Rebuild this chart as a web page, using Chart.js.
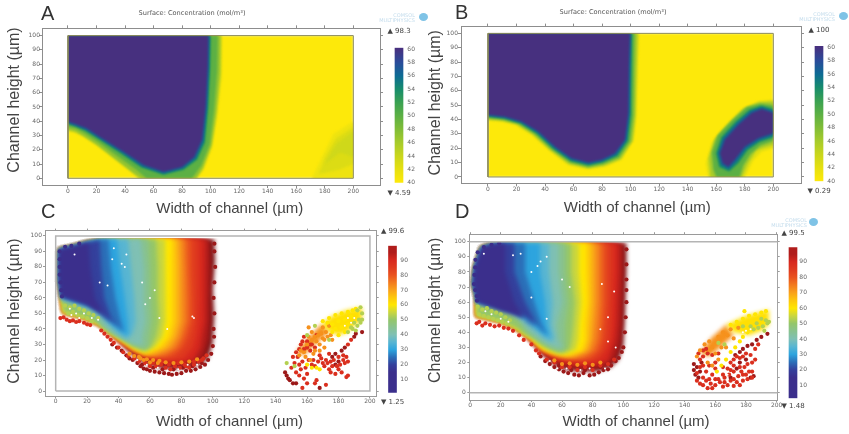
<!DOCTYPE html>
<html>
<head>
<meta charset="utf-8">
<title>Channel concentration</title>
<script src="https://cdn.jsdelivr.net/npm/chart.js@4"></script>
<style>
  html, body { margin: 0; background: #fff; overflow: hidden; }
  #stage { position: relative; width: 849px; height: 434px; }
  #stage canvas { position: absolute; filter: blur(0.45px); }
  .letter { position: absolute; font: 20px "Liberation Sans", sans-serif; color: #333; line-height: 20px; }
  .mark { position: absolute; font: 5px/5px "DejaVu Sans", sans-serif; color: #c3dcec; text-align: right; filter: blur(0.3px); }
  .logo { position: absolute; width: 9px; height: 8px; border-radius: 50%; background: #7fc3e6; }
</style>
</head>
<body>
<div id="stage">
  <canvas id="plotA" width="384" height="220" style="left:0;top:0"></canvas>
  <canvas id="plotB" width="384" height="219" style="left:421px;top:0"></canvas>
  <canvas id="plotC" width="381" height="208" style="left:0;top:226px"></canvas>
  <canvas id="plotD" width="361" height="205" style="left:421px;top:229px"></canvas>
  <canvas id="barA" width="33" height="174" style="left:383px;top:24px"></canvas>
  <canvas id="barB" width="33" height="173" style="left:803px;top:23px"></canvas>
  <canvas id="barC" width="32" height="183" style="left:377px;top:224px"></canvas>
  <canvas id="barD" width="29" height="185" style="left:779px;top:226px"></canvas>
  <div class="letter" style="left:41px;top:3px">A</div>
  <div class="letter" style="left:455px;top:2px">B</div>
  <div class="letter" style="left:41px;top:201px">C</div>
  <div class="letter" style="left:455px;top:201px">D</div>
  <div class="mark" style="left:365px;top:13px;width:50px">COMSOL<br>MULTIPHYSICS</div>
  <div class="logo" style="left:419px;top:13px"></div>
  <div class="mark" style="left:785px;top:12px;width:50px">COMSOL<br>MULTIPHYSICS</div>
  <div class="logo" style="left:839px;top:12px"></div>
  <div class="mark" style="left:757px;top:218px;width:50px">COMSOL<br>MULTIPHYSICS</div>
  <div class="logo" style="left:809px;top:218px"></div>
</div>
<script>
// colour scales of the two colour bars
const surfaceValues = [40, 42, 44, 46, 48, 50, 52, 54, 56, 58, 60];
const surfaceColors = ["#fde90a", "#e6e010", "#c9d61c", "#a6cb2b", "#80bd37", "#5cb044", "#3aa152", "#178c6c", "#0d6b94", "#2a4b9a", "#47307f"];
const rainbowValues = [0, 15, 20, 25, 30, 35, 40, 45, 50, 55, 60, 65, 70, 75, 80, 85, 90, 95, 100];
const rainbowColors = ["#3a2a84", "#3b2f8c", "#34409c", "#2b6fb8", "#2da4de", "#58b5d2", "#7fc0b4", "#88c290", "#94c66a", "#c9d63f", "#ffe600", "#fdc70c", "#f9a11b", "#f27a1e", "#e9521f", "#df3a1f", "#d7281e", "#b01c1b", "#7d1416"];

// panel A, concentration contours (x um, y um)
const a42 = [[0,100],[108,100],[107.7,71],[104.5,43],[101,22],[95,6],[90,0],[49,0],[41,9],[22,22],[10.7,29.5],[5,32],[0,33]];
const a46 = [[0,100],[107,100],[106.7,74],[104,46],[100.6,23],[94.5,7],[90,0],[51,0],[45,4],[34,12.5],[20,23.5],[10,30],[5,32.8],[0,34]];
const a50 = [[0,100],[105,100],[104.6,76],[102.4,48],[99.4,24],[93.5,9],[87,0],[55,0],[48,6],[36,14.5],[21,25.5],[11,32],[5,35],[0,36]];
const a54 = [[0,100],[100,100],[99.7,78],[98.4,50],[96,25],[90.5,13],[81,6],[67,2.5],[51.5,7.5],[37.5,17],[21.5,27.5],[12,33.5],[5,36.5],[0,38]];
const a56 = [[0,100],[99.2,100],[98.8,78],[97.4,50],[95,26],[89.5,14],[80.5,7],[67,3.5],[52,8.5],[38,18],[22,28],[12.5,34],[5,37],[0,38.6]];
const a58 = [[0,100],[98.4,100],[98,78],[96.5,50],[94,27],[88.5,15],[80,8],[67,4.5],[53,9.3],[39,18.6],[22.4,29],[13,35],[5,38],[0,39.6]];
const aFaint1 = [[171,0],[178,15],[186,31],[200,40],[200,0]];
const aFaint2 = [[176,3],[180,14],[188,28],[200,36],[200,10],[190,6]];
const aFaint3 = [[180,10],[188,24],[200,33],[200,15],[190.7,18]];

// panel B, left blob
const b42 = [[0,100],[105.8,100],[105,77],[104,42],[102,26],[93.7,12],[82,7.2],[70.3,5.4],[56.3,8.4],[42.3,19],[30.6,29.4],[19,36.4],[9.6,38.7],[0,39.4]];
const b46 = [[0,100],[105,100],[104.3,77],[103.4,42.5],[101.4,25],[93,12.5],[81.6,8],[70.3,6],[56.8,9],[43.3,19],[31.5,29.5],[20,36.7],[10,39.2],[0,40]];
const b50 = [[0,100],[103,100],[102.5,77],[102,43],[99.8,25],[92,13.5],[81,9],[70.3,7],[57.4,10],[44.5,19.3],[32.8,30],[21.3,37],[10.8,39.9],[0,41]];
const b54 = [[0,100],[101,100],[100.6,77],[100.2,43.5],[98,25],[90.8,14.7],[80.4,10.2],[70.3,8.2],[58,11.2],[45.8,19.6],[34.2,30.3],[22.8,37.4],[11.5,40.7],[0,42]];
const b56 = [[0,100],[100.3,100],[99.8,77],[99.3,44],[97,25.5],[90,15.5],[80,11],[70.3,9],[58.3,12],[46.3,20.3],[34.8,31],[23.2,38],[11.8,41.3],[0,42.7]];
const b58 = [[0,100],[99.5,100],[98.8,77],[98.4,44.5],[96,26],[89,16.5],[79.7,12],[70.3,10],[58.6,13],[47,21],[35.3,31.7],[23.6,38.7],[12,42],[0,43.4]];
// panel B, crescent
const bc42 = [[200,53.8],[189.5,52.7],[177.8,46.9],[166,35.2],[156.8,23.5],[152.8,9.6],[154.4,0],[180,0],[186,11.9],[191.8,17.7],[200,20]];
const bc46 = [[200,52.5],[190.3,52],[179.5,48],[169,37.7],[158.8,26.5],[154.6,13],[156,0],[178,0],[182,9],[188,18.5],[192,20],[200,22.5]];
const bc50 = [[200,50],[191,51],[181.5,48.8],[171.5,39.8],[161,29],[156.8,17],[158,5],[160,0],[176.5,0],[179,8],[184,16],[191,22],[200,25]];
const bc54 = [[200,47.5],[191.6,49.6],[183.4,47],[173.6,38.7],[163.6,27.8],[159.8,16.5],[162,7],[169,3.8],[175.6,9.8],[182,18.6],[190.4,24.4],[200,27.5]];
const bc56 = [[200,46],[191.8,48.6],[184.2,46],[174.6,37.6],[164.8,27],[161.2,16.5],[163.4,8.3],[168.8,5.6],[174.4,11],[181,19.8],[190,25.6],[200,29]];
const bc58 = [[200,44.5],[191.8,47.3],[184.8,44.5],[175.5,36.4],[166,26],[162.6,16.5],[164.5,9.6],[168.5,7.2],[173,12],[180,21],[189.5,27],[200,30.5]];

// panel C, body contours, open on the lower left
const rimC = [[34,38],[28,43],[18,47.5],[5,51]];
const leftC = [[3.8,60],[2.5,70],[2.3,80],[2.3,91],[11,93],[20,95.5],[28,97.4]];
const c100 = [[101,98],[101.5,84],[100,65],[101,48],[100,31],[97,21],[92,17],[83,15],[75,14],[66,15],[58,17],[50,22],[42,30.5]];
const c95 = [[98,98],[98.5,80],[98,60],[98,45],[97,33],[94,22],[86,17],[75,16],[66,17],[58,19],[50,24],[42,31]];
const c90 = [[95,98],[95,80],[95,60],[94.4,45],[93,35],[92,28],[87.6,20],[80,18],[70,18],[62,19.5],[56,21],[50,25],[42,31]];
const c85 = [[91,98],[91,80],[91,60],[90.5,45],[89,35],[87,28],[81,21],[72,19.5],[62,21],[56,22.5],[50,26],[42,31.5]];
const c80 = [[86.5,98],[86.5,80],[87,60],[87,45],[84.4,35],[81,28],[75,22.5],[68,21.5],[60,22.5],[56,23.2],[50,26],[42,31.5]];
const c75 = [[83,98],[83.5,80],[84,60],[84,45],[81,35],[77.5,28],[70,23],[62,22.5],[56,23.5],[50,26.5],[42,32]];
const c70 = [[80,98],[80.5,80],[81,60],[80.6,45],[78,35],[74,28],[64,23],[58,23.2],[50,26.5],[42,32]];
const c65 = [[77,98],[77.5,80],[77.5,60],[77.5,45],[75,35],[70,28],[60,23.8],[56,24],[50,27],[42,32.5]];
const c60 = [[74,98],[74,80],[74,60],[74,45],[71.7,35],[66,28],[57,24.5],[50,27.5],[42,33]];
const c55 = [[69.6,98],[70,80],[70,60],[70,45],[68,35],[63.5,28.5],[57,25.5],[50,28],[42,33.5]];
const c50 = [[64,98],[65,80],[65,60],[66,45],[64,35],[61,29],[57,26],[50,29],[42,34],[36,37]];
// these stop at the lower edge of the purple body
const c45 = [[59,98],[60,80],[60.5,60],[61,45],[59.5,35],[59,28.5],[56,27],[49,29.5],[42,33.5],[36,37],[29,42],[26,46],[22,50],[14,54],[4,58]];
const c40 = [[54,98],[56,80],[56,60],[57,45],[55,35],[55,29.5],[48,31],[42,34.5],[37,37.5],[31,42],[27,47.5],[22,52],[14,55.5],[4,59]];
const c35 = [[46,98],[48,80],[50,60],[51,45],[49,37],[45,33.5],[40,37],[34,42.5],[29,49],[23,53.5],[14,56.5],[4,60]];
const c30 = [[39,98],[41,80],[44,60],[46,45],[46,35.5],[42,38],[37,42],[32,47],[27,52],[14,57.5],[4,60.5]];
const c25 = [[33.5,98],[35,80],[38,60],[41,47],[43.5,37.5],[41,40],[36.5,44],[31,49],[27,53],[14,58],[4,61]];
const c20 = [[28,97.4],[29,80],[31,60],[35,48],[40,41],[36,44.5],[29,50.5],[20,56],[4,61]];
const c15 = [[21,96],[22,80],[25,60],[30,51],[36,43.5],[29,49.5],[20,55.5],[4,61]];

// panel C, crescent bands and separate particles by colour group
const cBandOrange = [[169,43],[160,33.6],[153,25],[158,23],[165,30],[174,38]];
const cBandYellow = [[195,54],[185,52],[176,48.5],[169,43],[174,38],[180,36],[186,38],[190,42],[195,46]];
const cPurple = [[2.5,90],[2.5,85],[2.5,80],[2.5,75],[3,70],[3.5,65],[4,61],[6,93],[10,93.5],[15,95]];
const cDark = [[49,20],[52,18],[54,16],[56,14.5],[58,14],[60,13],[63,12.5],[66,12],[69,11.5],[72,11],[74,10.5],[77,11],[80,11.5],[83,13],[86,13],[89,14],[92,15.5],[95,17],[97,20],[99,24],[100,29],[55,17],[62,15],[68,14],[75,14],[81,15],[87,16],[93,18],[36,30],[39,28],[42,26],[45,23],[47,21],[101,95],[101,90],[101.5,80],[101,70],[100.5,60],[101,50],[100.5,40],[100.8,35],[146,12],[147,10],[148,8],[149,7],[151,5],[153,5],[176,22],[178,24],[180,19],[182,26],[184,28],[178,17],[190,35],[191,37],[195,38],[168,2]];
const cRed = [[3,47],[5,47.5],[7,46],[9,45],[11,45.5],[13,44.5],[15,45],[18,44],[20,43],[22,42.5],[29,39],[31,37],[33,35],[35,33],[37,31],[40,28],[43,25],[46,22.5],[50,21],[53,19],[57,18],[60,16],[64,16],[67,17],[70,15],[73,14],[76,16],[79,15],[82,17],[85,15],[88,17],[91,19],[94,21],[96,23],[62,18],[68,19],[72,17],[78,18],[83,16],[88,19],[93,20],[150,15],[152,18],[153,12],[155,10],[156,14],[158,8],[160,11],[157,2],[160,5],[165,5],[166,7],[172,4],[175,12],[178,11],[180,14],[182,12],[185,9],[186,10],[184,18],[186,19],[174,14],[176,16],[170,18],[172,20],[168,23],[164,20],[162,26],[158,27],[156,30],[160,32],[163,30],[166,36],[154,22],[151,22],[180,22],[183,23],[174,24],[186,30],[188,33],[155,17],[157,19],[159,15],[161,20],[163,17],[165,16],[167,19],[169,21],[171,16],[173,18],[175,19],[177,20],[179,16],[181,17],[183,20],[185,22],[158,35],[155,27],[153,25],[157,32],[160,28],[162,30],[165,28]];
const cOrange = [[47,24],[50,22.5],[54,21],[58,20.5],[62,20],[66,19.5],[56,20],[60,18.5],[65,18],[70,18.5],[75,18],[80,18.5],[85,19],[90,20.5],[53,22],[156,26],[159,22],[162,20],[164,24],[161,35],[163,38],[166,32],[168,30],[170,34],[172,38],[170,41],[174,42],[175,36],[168,26],[171,28],[161,41],[176,33],[163,33],[165,35],[167,36],[169,37],[171,33],[173,35],[160,30],[158,25],[155,23],[165,26]];
const cYellow = [[170,45],[174,47],[178,49],[182,50],[186,51],[189,52],[176,43],[180,45],[184,46],[188,48],[178,40],[182,41],[186,43],[176,38],[180,36],[184,38],[173,44],[191,53],[166,15],[168,14],[163,15],[160,17]];
const cGreen = [[147,18],[152,16],[192,52],[194,54],[195,50],[193,46],[190,44],[188,41],[192,42],[194,44],[186,38],[189,40],[191,39],[195,46],[174,33],[160,36],[165,42],[6,55],[9,54],[12,55],[15,53],[18,52],[21,50],[24,49],[27,47],[8,50],[11,51],[14,49],[17,48],[20,47],[23,45]];
const cWhite = [[12,88],[36,85],[42,82],[44,80],[33,68],[55,70],[63,65],[28,70],[87,48],[88,47],[66,47],[57,56],[71,40],[45,88],[60,60],[37,92],[9,53],[13,50],[18,50],[23,47],[27,46],[10,49],[15,47],[186,47],[188,44],[190,47],[184,42],[58,17],[65,15],[71,13],[78,14],[84,17],[90,17],[52,20]];

// panel D, body contours, open on the lower left
const rimD = [[36,38.5],[30,43],[20,47.5],[10,50],[4.3,51]];
const leftD = [[4.3,60.4],[4.3,63.7],[2.2,72.4],[3.3,83],[7.6,96],[14,98],[20.6,99]];
const d100 = [[102,99],[102,83],[101.5,65],[101,50],[100,31],[97,22],[92,17],[83,14],[72,14],[62,15],[54,19],[47,25.5],[41,33]];
const d95 = [[100,99],[100,80],[99.5,60],[99,45],[98,33],[95,23],[88,17],[78,16],[68,16.5],[60,18],[54,21],[47,26.5],[41,33.5]];
const d90 = [[96.7,99],[96.7,80],[96,60],[95.6,45],[94.6,35],[92.4,28],[90,21],[80,18],[70,18],[60,20],[54,22.5],[47,27.5],[41,33.5]];
const d85 = [[93,99],[93,80],[92.5,60],[92,45],[91,35],[88.5,28],[84,22],[74,20],[64,21],[56,23],[47,28],[41,34]];
const d80 = [[89,99],[89,80],[89,60],[88,45],[87,35],[84.8,28],[79,22.5],[70,22],[60,23],[54,24.5],[47,28],[41,34]];
const d75 = [[85.8,99],[85.8,80],[85.8,60],[85,45],[84,35],[81.5,28],[74,23],[66,22.8],[58,24],[47,28.5],[41,34.5]];
const d70 = [[82.6,99],[82.6,80],[82.6,60],[81.5,45],[80.4,35],[78,28],[68.5,23.5],[62,23.5],[54,25.5],[47,29],[41,35]];
const d65 = [[79.3,99],[79.5,80],[79.5,60],[78.3,45],[77.7,35],[75.5,28],[66,24.5],[59,25],[52,27],[47,29.5],[41,35]];
const d60 = [[76,99],[76,80],[76.5,60],[75,45],[75,35],[72.8,28],[63,25],[57,26],[50,28],[45,31],[41,35.5]];
const d55 = [[71,99],[71,80],[72.5,60],[71.2,45],[70.6,35],[69,28.5],[62,26],[56.5,26.5],[50,29],[45,32],[41,36]];
const d50 = [[66,99],[66,80],[68.5,60],[67.4,45],[66.3,35],[65,29],[60,26.5],[56,27.5],[50,30],[45,33],[41,36.5]];
const d45 = [[62,99],[62,80],[64,60],[62,45],[62,35],[62,29],[58,27.5],[52,30],[47,33],[41,37],[36,41],[32,47],[27,51.5],[18,55],[4.3,59.5]];
const d40 = [[57.6,99],[57.6,80],[60,60],[56.5,45],[57.6,35],[60,30],[54,31],[49,33.5],[44,37],[38,41.5],[33,48],[27,52.5],[18,56],[4.3,60]];
const d35 = [[51.5,99],[51.5,80],[54,60],[53,45],[55,36],[53,33.5],[48,36.5],[42,41.5],[36,47],[29,53],[18,57],[4.3,60.2]];
const d30 = [[45.6,99],[45.6,80],[49,60],[50,45],[52,37],[49,38],[45,41.5],[38,47.5],[31,53],[18,57.5],[4.3,60.4]];
const d25 = [[36,99],[36,80],[42,60],[46.5,46],[50.5,38],[47,41],[43,45],[36,50],[29,54],[18,58],[4.3,60.4]];
const d20 = [[29,99],[29,80],[36,60],[43.5,45],[49,39.5],[44.6,44],[36,50.6],[27,54],[20.6,55],[4.3,60.4]];
const d15 = [[23,98.7],[23,80],[29,60],[37,47],[43,43],[36,49],[20,54.5],[4.3,60.4]];

// panel D, crescent bands and separate particles
const dBandOrange = [[167,45],[157,36],[150,26],[156,24],[163,30],[172,38]];
const dBandYellow = [[195,55],[180,51],[167,45],[172,40],[182,38],[190,41],[195,45]];
const dPurple = [[5,93],[3.5,88],[3.3,83],[2.8,78],[2.5,72],[3.3,68],[4.3,64],[4.5,61],[9,96.5],[14,98],[19,99]];
const dDark = [[46,24],[49,21],[52,19],[55,17],[58,15.5],[61,14],[64,13],[68,12],[71,11.5],[74,13],[78,11.5],[81,12],[84,13.5],[87,15],[90,15.5],[92,18],[95,21],[97,23],[99,27],[100,30],[58,18],[66,15],[75,15],[85,17],[102,95],[102,85],[102,75],[102,68],[102,60],[101.5,50],[101,40],[146,19],[146,15],[147,12],[148,17],[149,10],[150,14],[151,20],[173,25],[176,27],[178,29],[181,31],[184,32],[187,35],[190,37],[194,39],[180,22],[176,20],[174,16],[170,10],[183,10],[185,11]];
const dRed = [[4.3,46],[6,47],[8,44.5],[10,46],[13,45],[16,44],[19,44.5],[22,43],[25,42.5],[28,41],[32,38],[35,35],[40,32],[43,28],[45,26],[50,22],[55,20],[60,17],[65,17],[70,15],[75,17],[80,15],[85,18],[90,19],[94,22],[148,8],[150,6],[152,5],[155,3],[158,3],[160,5],[165,4],[168,5],[172,4.5],[176,5],[178,8],[181,9],[184,10],[150,22],[152,18],[154,14],[156,9],[158,12],[160,16],[162,9],[165,12],[168,16],[170,20],[172,22],[175,11],[177,14],[179,17],[181,19],[183,25],[186,29],[188,32],[174,24],[178,24],[166,7],[172,14],[176,17],[170,8],[182,14],[149,26],[152,28],[155,26],[152,10],[154,8],[157,6],[160,9],[163,7],[166,10],[169,12],[172,9],[174,7],[178,12],[180,12],[184,14],[186,22],[184,20],[170,15],[165,17],[160,20],[156,18],[150,17],[148,13],[152,24],[154,29],[158,25],[162,26],[176,23],[180,26],[172,18]];
const dOrange = [[148,24],[150,28],[153,32],[156,34],[158,30],[160,26],[162,22],[155,20],[158,18],[162,37],[165,40],[168,38],[170,42],[164,30],[167,30],[172,36],[175,43],[60,19],[65,19.5],[70,18.5],[75,19.5],[80,18.5],[85,20],[55,21.5]];
const dYellow = [[161,14],[164,18],[167,22],[170,27],[173,30],[176,34],[178,37],[181,40],[170,45],[174,47],[178,49],[182,51],[186,52],[190,53],[193,54],[179,54]];
const dGreen = [[190,49],[193,48],[194,46],[195,47],[191,44],[188,43],[185,42],[192,41],[187,46],[183,44],[166,32],[162,33],[178,44],[5,57],[8,55],[11,56],[14,54],[17,53],[20,52],[23,50],[26,48],[6,52],[9,51],[12,50],[15,49],[18,48],[21,47],[24,46]];
const dWhite = [[9,92],[28,91],[33,92],[40,80],[44,84],[46,87],[40,63],[50,90],[60,75],[65,70],[94,67],[86,72],[90,50],[90,34],[95,30],[85,42],[50,49],[160,12],[168,12],[164,22],[172,20],[180,41],[176,30],[158,22],[168,28],[14,52],[20,49],[25,47],[10,54],[178,40],[174,36],[183,42],[57,16],[63,16],[72,15],[78,16],[88,16],[52,21]];

// channel outline and the ranges printed on the colour bars
const channelBox = [[0,0],[200,0],[200,100],[0,100],[0,0]];
const channelBoxD = [[-1,0],[201,0],[201,100],[-1,100],[-1,0]];
const rangeA = [4.59, 98.3];
const rangeB = [0.29, 100];
const rangeC = [1.25, 99.6];
const rangeD = [1.48, 99.5];

const surfaceTitle = "Surface: Concentration (mol/m³)";
const xTitle = "Width of channel (µm)";
const yTitle = "Channel height (µm)";
const tickColor = "#666";
const tickFont = { family: "DejaVu Sans", size: 6, weight: "normal" };

function colorAt(values, colors, v) {
  let i = values.findIndex((n) => n >= v);
  if (i <= 0) return colors[Math.max(i, 0)];
  const t = (v - values[i - 1]) / (values[i] - values[i - 1]);
  const a = parseInt(colors[i - 1].slice(1), 16);
  const b = parseInt(colors[i].slice(1), 16);
  const mix = (s) => Math.round(((a >> s) & 255) * (1 - t) + ((b >> s) & 255) * t);
  return `rgb(${mix(16)},${mix(8)},${mix(0)})`;
}
const surface = (v) => colorAt(surfaceValues, surfaceColors, v);
const rainbow = (v) => colorAt(rainbowValues, rainbowColors, v);

function poly(data, color) {
  return { data, showLine: true, fill: "shape", backgroundColor: color, borderWidth: 0, pointRadius: 0, tension: 0 };
}
function dots(data, color, r) {
  return { data, showLine: false, pointRadius: r || 2.1, backgroundColor: color, borderWidth: 0 };
}
function outline(data, color, w) {
  return { data, showLine: true, fill: false, borderColor: color, borderWidth: w, pointRadius: 0, tension: 0 };
}

// the contour fills are softened so the bands run into each other like the original surface
function softFills(blur, box) {
  let open = false;
  const close = (ctx) => {
    if (open) ctx.restore();
    open = false;
  };
  return {
    id: "softFills",
    beforeDatasetsDraw(chart) {
      const { ctx, scales } = chart;
      const left = scales.x.getPixelForValue(box[0]);
      const top = scales.y.getPixelForValue(box[3]);
      ctx.save();
      open = true;
      ctx.beginPath();
      ctx.rect(left, top, scales.x.getPixelForValue(box[1]) - left, scales.y.getPixelForValue(box[2]) - top);
      ctx.clip();
      ctx.filter = `blur(${blur}px)`;
    },
    // fills come first, the dots and outlines after them stay sharp
    beforeDatasetDraw(chart, args) {
      if (!chart.data.datasets[args.index].fill) close(chart.ctx);
    },
    afterDatasetsDraw(chart) {
      close(chart.ctx);
    },
  };
}

// layers are listed bottom to top, chart.js paints the first dataset last
function drawPlot(id, p) {
  const axis = (min, max, step, position, size, extra) => ({
    type: "linear", position, min, max,
    grid: { drawOnChartArea: false, tickLength: p.tick, tickColor: p.frame },
    border: { color: p.frame, width: p.frameWidth },
    afterFit: (s) => { if (s.isHorizontal()) s.height = size; else s.width = size; },
    ...extra,
    ticks: { stepSize: step, includeBounds: false, autoSkip: false, maxRotation: 0, color: tickColor, font: tickFont, ...(extra.ticks || {}) },
  });
  new Chart(document.getElementById(id), {
    type: "scatter",
    data: { datasets: p.layers.slice().reverse() },
    plugins: [softFills(p.blur, p.softBox)],
    options: {
      responsive: false,
      animation: false,
      layout: { padding: 0 },
      plugins: {
        legend: { display: false },
        tooltip: { enabled: false },
        title: p.title
          ? { display: true, text: p.title, color: "#555", font: { ...tickFont, size: 6.6 }, padding: { top: p.titleTop, bottom: p.titleBottom } }
          : { display: false },
      },
      scales: {
        x: axis(p.x[0], p.x[1], 20, "bottom", p.xSize, {
          ticks: { padding: p.xPad },
          title: { display: true, text: " ".repeat(p.xShift) + xTitle, color: "#444", font: { family: "Liberation Sans", size: 15 }, padding: { top: 0, bottom: p.xTitlePad } },
        }),
        y: axis(p.y[0], p.y[1], 10, "left", p.ySize, {
          ticks: { padding: p.yPad },
          title: { display: true, text: " ".repeat(p.yShift) + yTitle, color: "#444", font: { family: "Liberation Sans", size: 16 }, padding: { top: 5.4, bottom: 0 } },
        }),
        x2: axis(p.x[0], p.x[1], 20, "top", p.tick, { ticks: { display: false } }),
        y2: axis(p.y[0], p.y[1], 10, "right", p.rightSize, { ticks: { display: false } }),
      },
    },
  });
}

function drawBar(id, b) {
  const label = (text, position, size, padding) => ({
    type: "category", position,
    grid: { display: false }, border: { display: false }, ticks: { display: false },
    title: { display: true, text, color: "#444", font: { family: "DejaVu Sans", size: 7 }, padding },
    afterFit: (s) => { s.height = size; },
  });
  new Chart(document.getElementById(id), {
    type: "bar",
    data: {
      labels: [""],
      datasets: [{
        data: [[b.min, b.max]],
        barThickness: 8,
        backgroundColor: (ctx) => {
          const area = ctx.chart.chartArea;
          if (!area) return b.stops[1][0];
          const g = ctx.chart.ctx.createLinearGradient(0, area.bottom, 0, area.top);
          b.stops[0].forEach((v, i) => {
            const t = (v - b.min) / (b.max - b.min);
            if (t >= 0 && t <= 1) g.addColorStop(t, b.stops[1][i]);
          });
          return g;
        },
      }],
    },
    options: {
      responsive: false,
      animation: false,
      layout: { padding: 0 },
      plugins: { legend: { display: false }, tooltip: { enabled: false } },
      scales: {
        x: label("▼ " + b.low, "bottom", b.bottomSize, { top: 0, bottom: 0.8 }),
        xTop: label("▲ " + b.high, "top", b.topSize, { top: 2.8, bottom: 0 }),
        y: {
          position: "right", min: b.min, max: b.max,
          grid: { display: false }, border: { display: false },
          ticks: { stepSize: b.step, includeBounds: false, mirror: true, padding: 0, color: tickColor, font: tickFont },
          afterFit: (s) => { s.width = 1; },
        },
      },
    },
  });
}

drawPlot("plotA", {
  x: [-18.2, 218.7], y: [-4.7, 105.1], xSize: 35, ySize: 42, rightSize: 4, tick: 3, xPad: 0, yPad: -1,
  frame: "#8d8d8d", frameWidth: 1, xShift: 9, yShift: 3, xTitlePad: 2, blur: 0.9, softBox: [0, 200, 0, 100],
  title: surfaceTitle, titleTop: 9.2, titleBottom: 8.2,
  layers: [
    poly(channelBox, "#fde90a"),
    poly(aFaint1, "#eee30f"), poly(aFaint2, "#dcdc14"), poly(aFaint3, "#cfd81a"),
    poly(a42, surface(43)), poly(a46, surface(47)), poly(a50, surface(50)),
    poly(a54, surface(54)), poly(a56, surface(56.5)), poly(a58, surface(60)),
    outline(channelBox, "#8a8a5a", 1),
  ],
});

drawPlot("plotB", {
  x: [-18.9, 219.4], y: [-4.4, 104.7], xSize: 35.7, ySize: 40, rightSize: 4, tick: 3, xPad: 0, yPad: 0,
  frame: "#8d8d8d", frameWidth: 1, xShift: 3, yShift: 1, xTitlePad: 2, blur: 0.9, softBox: [0, 200, 0, 100],
  title: surfaceTitle, titleTop: 8.2, titleBottom: 7.5,
  layers: [
    poly(channelBox, "#fde90a"),
    poly(b42, surface(42.5)), poly(b46, surface(46)), poly(b50, surface(50)),
    poly(b54, surface(54)), poly(b56, surface(56.5)), poly(b58, surface(60)),
    poly(bc42, surface(42.5)), poly(bc46, surface(46)), poly(bc50, surface(50)),
    poly(bc54, surface(54)), poly(bc56, surface(56.5)), poly(bc58, surface(60)),
    outline(channelBox, "#8a8a5a", 1),
  ],
});

const tailC = (head) => head.concat(rimC, leftC);
drawPlot("plotC", {
  x: [-6.8, 204.3], y: [-3.2, 103.4], xSize: 38, ySize: 45, rightSize: 4.3, tick: 2, xPad: -0.5, yPad: 1,
  frame: "#9a9a9a", frameWidth: 1, xShift: 9, yShift: 1, xTitlePad: 3.3, blur: 2.2, softBox: [-5, 204, -3, 98.4],
  layers: [
    poly(tailC(c100), rainbow(100)), poly(tailC(c95), rainbow(95)), poly(tailC(c90), rainbow(90)),
    poly(tailC(c85), rainbow(85)), poly(tailC(c80), rainbow(80)), poly(tailC(c75), rainbow(75)),
    poly(tailC(c70), rainbow(70)), poly(tailC(c65), rainbow(65)), poly(tailC(c60), rainbow(60)),
    poly(tailC(c55), rainbow(55)), poly(tailC(c50), rainbow(50)),
    poly(c45.concat(leftC), rainbow(45)), poly(c40.concat(leftC), rainbow(40)),
    poly(c35.concat(leftC), rainbow(35)), poly(c30.concat(leftC), rainbow(30)),
    poly(c25.concat(leftC), rainbow(25)), poly(c20.concat(leftC), rainbow(20)),
    poly(c15.concat(leftC), rainbow(15)),
    poly(cBandOrange, rainbow(72)), poly(cBandYellow, rainbow(61)),
    dots(cPurple, rainbow(12)), dots(cDark, rainbow(97)), dots(cRed, rainbow(88)), dots(cOrange, rainbow(72)),
    dots(cYellow, rainbow(60)), dots(cGreen, rainbow(53)), dots(cWhite, "#ffffff", 1),
    outline(channelBox, "#b4b4b4", 1.5),
  ],
});

const tailD = (head) => head.concat(rimD, leftD);
drawPlot("plotD", {
  x: [-0.5, 200.7], y: [-4.8, 105], xSize: 34, ySize: 48.3, rightSize: 4.3, tick: 2, xPad: -0.5, yPad: 1.6,
  frame: "#9a9a9a", frameWidth: 1, xShift: 6, yShift: 3, xTitlePad: 3.3, blur: 2.2, softBox: [-0.5, 200.7, -4, 100],
  layers: [
    poly(tailD(d100), rainbow(100)), poly(tailD(d95), rainbow(95)), poly(tailD(d90), rainbow(90)),
    poly(tailD(d85), rainbow(85)), poly(tailD(d80), rainbow(80)), poly(tailD(d75), rainbow(75)),
    poly(tailD(d70), rainbow(70)), poly(tailD(d65), rainbow(65)), poly(tailD(d60), rainbow(60)),
    poly(tailD(d55), rainbow(55)), poly(tailD(d50), rainbow(50)),
    poly(d45.concat(leftD), rainbow(45)), poly(d40.concat(leftD), rainbow(40)),
    poly(d35.concat(leftD), rainbow(35)), poly(d30.concat(leftD), rainbow(30)),
    poly(d25.concat(leftD), rainbow(25)), poly(d20.concat(leftD), rainbow(20)),
    poly(d15.concat(leftD), rainbow(15)),
    poly(dBandOrange, rainbow(72)), poly(dBandYellow, rainbow(61)),
    dots(dPurple, rainbow(12)), dots(dDark, rainbow(97)), dots(dRed, rainbow(88)), dots(dOrange, rainbow(72)),
    dots(dYellow, rainbow(60)), dots(dGreen, rainbow(53)), dots(dWhite, "#ffffff", 1),
    outline(channelBoxD, "#b4b4b4", 1.5),
  ],
});

drawBar("barA", { min: 40, max: 60.2, step: 2, high: rangeA[1], low: rangeA[0], stops: [surfaceValues, surfaceColors], topSize: 23.7, bottomSize: 15.3 });
drawBar("barB", { min: 40, max: 60.2, step: 2, high: rangeB[1], low: rangeB[0], stops: [surfaceValues, surfaceColors], topSize: 23, bottomSize: 14.7 });
drawBar("barC", { min: rangeC[0], max: rangeC[1], step: 10, high: rangeC[1], low: rangeC[0], stops: [rainbowValues, rainbowColors], topSize: 21.7, bottomSize: 14.3 });
drawBar("barD", { min: rangeD[0], max: rangeD[1], step: 10, high: rangeD[1], low: rangeD[0], stops: [rainbowValues, rainbowColors], topSize: 21.3, bottomSize: 12.7 });
</script>
</body>
</html>
